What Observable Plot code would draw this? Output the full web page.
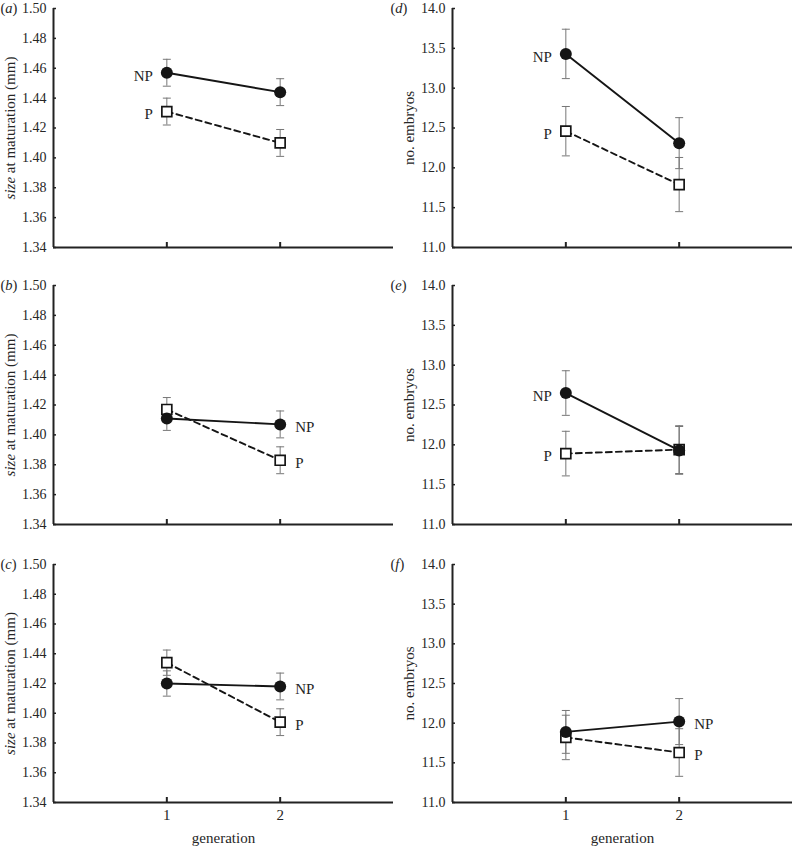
<!DOCTYPE html>
<html><head><meta charset="utf-8">
<script src="https://cdn.jsdelivr.net/npm/d3@7"></script>
<script src="https://cdn.jsdelivr.net/npm/@observablehq/plot@0.6"></script>
<style>
body{margin:0;background:#fff;}
#fig{position:relative;width:797px;height:846px;overflow:hidden;background:#fff;}
#fig > svg{position:absolute;}
</style></head><body><div id="fig"></div>
<script>
// ---------- data ----------
const generations = [1, 2];
const panelLetters = ["a", "b", "c", "d", "e", "f"];
const seriesNames = ["NP", "P"];
// means per panel (generation 1, generation 2)
const npMeans = [[1.457, 1.444], [1.411, 1.407], [1.420, 1.418], [13.43, 12.31], [12.65, 11.93], [11.89, 12.02]];
const npErrors = [[0.009, 0.009], [0.008, 0.009], [0.0085, 0.009], [0.31, 0.32], [0.28, 0.30], [0.27, 0.29]];
const pMeans = [[1.431, 1.410], [1.417, 1.383], [1.434, 1.394], [12.46, 11.79], [11.89, 11.94], [11.82, 11.63]];
const pErrors = [[0.009, 0.009], [0.008, 0.009], [0.0085, 0.009], [0.31, 0.34], [0.28, 0.30], [0.28, 0.30]];
// generation beside which the NP / P labels sit
const labelGeneration = [1, 2, 2, 1, 1, 2];
const sizeTicks = [1.34, 1.36, 1.38, 1.40, 1.42, 1.44, 1.46, 1.48, 1.50];
const embryoTicks = [11.0, 11.5, 12.0, 12.5, 13.0, 13.5, 14.0];
const yLabels = ["size at maturation (mm)", "size at maturation (mm)", "size at maturation (mm)", "no. embryos", "no. embryos", "no. embryos"];
const xLabel = "generation";

// ---------- drawing ----------
const fig = document.getElementById("fig");
const INK = "#151515", AXIS = "#222", TEXT = "#262626", ERR = "#777";
const capSymbol = {draw(ctx) { ctx.moveTo(-4, 0); ctx.lineTo(4, 0); }};

function italicize(svg, whole, part) {
  d3.select(svg).selectAll("text").filter(function() { return this.textContent === whole; })
    .each(function() {
      const idx = whole.indexOf(part);
      const before = whole.slice(0, idx), after = whole.slice(idx + part.length);
      const el = d3.select(this);
      el.text(null);
      if (before) el.append("tspan").text(before);
      el.append("tspan").attr("font-style", "italic").text(part);
      if (after) el.append("tspan").text(after);
    });
}

panelLetters.forEach((letter, i) => {
  const col = i < 3 ? 0 : 1, row = i % 3;
  const ticks = col === 0 ? sizeTicks : embryoTicks;
  const fmt = col === 0 ? d3.format(".2f") : d3.format(".1f");
  const rows = [];
  generations.forEach((g, j) => {
    rows.push({series: seriesNames[0], gen: g, mean: npMeans[i][j], err: npErrors[i][j]});
    rows.push({series: seriesNames[1], gen: g, mean: pMeans[i][j], err: pErrors[i][j]});
  });
  const np = rows.filter(d => d.series === "NP");
  const p = rows.filter(d => d.series === "P");
  const labels = rows.filter(d => d.gen === labelGeneration[i]);
  const bottom = row === 2;
  const width = col === 0 ? 399 : 398;
  const marginLeft = 53, marginRight = col === 0 ? 6 : 5;
  const marginTop = 8;
  const innerH = bottom ? 238 : 239;
  const marginBottom = bottom ? 44 : 30;
  const height = marginTop + innerH + marginBottom;
  const innerW = width - marginLeft - marginRight;
  const top = [0, 277, 556][row];
  const left = col === 0 ? 0 : 399;

  const marks = [
    Plot.ruleX([0], {stroke: AXIS, strokeWidth: 2}),
    Plot.ruleY([ticks[0]], {stroke: AXIS, strokeWidth: 2}),
    Plot.tickY(ticks, {y: d => d, insetRight: innerW - 3, stroke: AXIS, strokeWidth: 1.5}),
    Plot.tickX(generations, {x: d => d, insetTop: innerH - 5, stroke: AXIS, strokeWidth: 2}),
    // y tick labels
    Plot.text(ticks, {y: d => d, text: d => fmt(d), frameAnchor: "left", dx: -7, textAnchor: "end", lineAnchor: "middle", fontSize: 14, fill: TEXT}),
    // error bars
    Plot.ruleX(rows, {x: "gen", y1: d => d.mean - d.err, y2: d => d.mean + d.err, stroke: ERR, strokeWidth: 1}),
    Plot.dot(rows, {x: "gen", y: d => d.mean + d.err, symbol: capSymbol, fill: "none", stroke: ERR, strokeWidth: 1}),
    Plot.dot(rows, {x: "gen", y: d => d.mean - d.err, symbol: capSymbol, fill: "none", stroke: ERR, strokeWidth: 1}),
    // lines
    Plot.line(p, {x: "gen", y: "mean", stroke: INK, strokeWidth: 1.9, strokeDasharray: "6,4"}),
    Plot.line(np, {x: "gen", y: "mean", stroke: INK, strokeWidth: 1.9}),
    // markers
    Plot.dot(p, {x: "gen", y: "mean", symbol: "square", r: 5.6, fill: "white", stroke: INK, strokeWidth: 1.7}),
    Plot.dot(np, {x: "gen", y: "mean", r: 6, fill: INK, stroke: "none"}),
    // series labels
    Plot.text(labels.filter(d => d.gen === 1), {x: "gen", y: "mean", text: "series", textAnchor: "end", dx: -14, dy: 3, fontSize: 15, fill: TEXT}),
    Plot.text(labels.filter(d => d.gen === 2), {x: "gen", y: "mean", text: "series", textAnchor: "start", dx: 15, dy: 3, fontSize: 15, fill: TEXT}),
    // panel letter and y label
    Plot.text([`(${letter})`], {frameAnchor: "top-left", dx: col === 0 ? -53 : -62, textAnchor: "start", lineAnchor: "middle", fontSize: 14.5, fill: TEXT}),
    Plot.text([yLabels[i]], {frameAnchor: "left", dx: -43, rotate: -90, textAnchor: "middle", lineAnchor: "middle", fontSize: 15, fill: TEXT})
  ];
  if (bottom) {
    marks.push(Plot.text(generations, {x: d => d, text: d => String(d), frameAnchor: "bottom", dy: 13, lineAnchor: "middle", fontSize: 15, fill: TEXT}));
    marks.push(Plot.text([xLabel], {frameAnchor: "bottom", dy: 36, lineAnchor: "middle", fontSize: 15, fill: TEXT}));
  }

  const svg = Plot.plot({
    width, height, marginLeft, marginRight, marginTop, marginBottom,
    x: {type: "linear", domain: [0, 3], axis: null},
    y: {type: "linear", domain: [ticks[0], ticks[ticks.length - 1]], axis: null},
    style: {fontFamily: "'Liberation Serif', 'Times New Roman', serif", background: "transparent", overflow: "visible"},
    marks
  });
  svg.style.left = left + "px";
  svg.style.top = top + "px";
  fig.appendChild(svg);
  italicize(svg, `(${letter})`, letter);
  italicize(svg, "size at maturation (mm)", "size");
});
</script>
</body></html>
